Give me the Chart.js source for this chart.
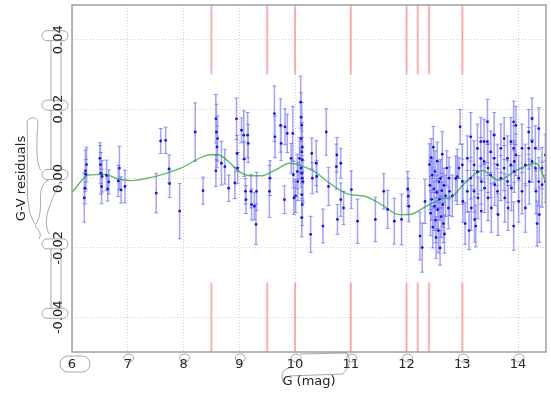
<!DOCTYPE html>
<html>
<head>
<meta charset="utf-8">
<script src="https://cdn.jsdelivr.net/npm/chart.js@4.4.0/dist/chart.umd.min.js"></script>
<style>
  html, body { margin: 0; padding: 0; background: #fff; }
  #wrap { width: 551px; height: 394px; }
</style>
</head>
<body>
<div id="wrap"><canvas id="chart"></canvas></div>
<script>
// axis ranges / ticks
const xRange = [6, 14.5];
const yRange = [-0.05, 0.05];
const xTicks = [6, 7, 8, 9, 10, 11, 12, 13, 14];
const yTicks = [-0.04, -0.02, 0, 0.02, 0.04];

// measured residuals: G magnitude, G-V residual, 1-sigma error
const gMag = [
  6.22, 6.24, 6.25, 6.23, 6.26, 6.50, 6.51, 6.52, 6.53, 6.54, 6.62, 6.64, 6.66, 6.83, 6.85, 6.88, 6.95,
  7.51, 7.59, 7.68, 7.74, 7.75, 7.93,
  8.21, 8.35, 8.58, 8.59, 8.60, 8.58, 8.61, 8.68, 8.74, 8.81, 8.92, 8.95, 8.96, 8.97,
  9.04, 9.08, 9.09, 9.11, 9.12, 9.15, 9.16, 9.21, 9.22, 9.27, 9.30, 9.31, 9.54, 9.55, 9.63, 9.64,
  9.74, 9.75, 9.81, 9.82, 9.86, 9.93, 9.96, 9.97, 9.98,
  10.01, 10.04, 10.05, 10.08, 10.10, 10.11, 10.12, 10.11, 10.13, 10.12, 10.13, 10.11, 10.12, 10.13,
  10.14, 10.12, 10.13, 10.12, 10.28, 10.30, 10.31, 10.38, 10.39, 10.50, 10.56, 10.60, 10.74, 10.75,
  10.76, 10.82, 10.82, 10.87, 11.01, 11.12, 11.44, 11.59, 11.66, 11.78, 11.91,
  12.02, 12.03, 12.04, 12.24, 12.28, 12.33,
  12.41, 12.42, 12.43, 12.44, 12.45, 12.46, 12.47, 12.48, 12.49, 12.50, 12.51, 12.52, 12.53, 12.54,
  12.55, 12.56, 12.57, 12.58, 12.59, 12.60, 12.61, 12.62, 12.63, 12.64, 12.65, 12.66, 12.67, 12.68,
  12.70, 12.72, 12.75, 12.76, 12.77, 12.82, 12.88, 12.91, 12.94, 12.96,
  13.00, 13.00, 13.01, 13.05, 13.09, 13.09, 13.12, 13.15, 13.15, 13.16, 13.21, 13.21, 13.22, 13.24,
  13.27, 13.27, 13.28, 13.33, 13.33, 13.34, 13.34, 13.39, 13.39, 13.40, 13.45, 13.45, 13.46, 13.46,
  13.51, 13.51, 13.52, 13.57, 13.57, 13.58, 13.63, 13.63, 13.64, 13.69, 13.69, 13.75, 13.75, 13.76,
  13.81, 13.81, 13.82, 13.87, 13.87, 13.88, 13.92, 13.92, 13.92, 13.93, 13.93, 13.96, 13.96,
  14.01, 14.01, 14.07, 14.07, 14.13, 14.13, 14.19, 14.19, 14.20, 14.25, 14.25, 14.25, 14.31, 14.31,
  14.32, 14.34, 14.37, 14.37, 14.38, 14.43, 14.43, 14.49, 14.49
];
const resid = [
  -0.0056, 0.0022, 0.0012, -0.0028, 0.0040, 0.0058, 0.0040, 0.0015, -0.0023, 0.0006, 0.0009, -0.0030, -0.0010, -0.0007, 0.0030, -0.0033, -0.0023,
  -0.0042, 0.0108, 0.0110, 0.0028, -0.0015, -0.0094,
  0.0134, -0.0035, 0.0172, 0.0134, 0.0091, 0.0022, 0.0115, 0.0044, 0.0034, -0.0028, -0.0013, 0.0172, 0.0072, 0.0030,
  0.0139, 0.0125, 0.0056, -0.0037, -0.0061, 0.0125, 0.0101, -0.0037, -0.0075, -0.0080, -0.0132, -0.0037, -0.0037, 0.0001, 0.0187, 0.0120,
  0.0153, 0.0101, -0.0061, 0.0149, 0.0130, 0.0058, 0.0130, 0.0011, -0.0056,
  -0.0050, 0.0020, -0.0009, 0.0058, 0.0220, 0.0177, 0.0154, 0.0115, 0.0091, 0.0077, 0.0054, 0.0030, 0.0015, 0.0001,
  -0.0009, -0.0047, -0.0075, -0.0113, -0.0161, 0.0072, 0.0001, 0.0044, 0.0006, -0.0137, 0.0134, -0.0023, 0.0034, 0.0068,
  -0.0118, 0.0044, -0.0061, -0.0085, -0.0032, -0.0123, -0.0118, -0.0037, -0.0089, -0.0123, -0.0118,
  -0.0030, -0.0051, -0.0080, -0.0166, -0.0199, -0.0066,
  0.0040, -0.0020, -0.0100, 0.0060, -0.0060, 0.0010, -0.0140, 0.0090, -0.0030, -0.0080, 0.0020, -0.0120, -0.0170, -0.0040,
  0.0050, -0.0090, -0.0150, -0.0010, -0.0060, -0.0200, 0.0000, -0.0110, -0.0035, 0.0070, -0.0075, -0.0130, -0.0020, -0.0160,
  -0.0050, 0.0030, -0.0085, 0.0001, -0.0037, -0.0050, 0.0000, 0.0005, 0.0030, 0.0149,
  0.0039, -0.0009, -0.0066, -0.0130, 0.0058, -0.0037, -0.0150, 0.0120, 0.0001, -0.0085, 0.0039, -0.0037, -0.0118, -0.0137,
  0.0087, 0.0020, -0.0056, 0.0106, 0.0058, -0.0009, -0.0094, 0.0106, 0.0049, -0.0028, 0.0163, 0.0106, 0.0030, -0.0056,
  0.0077, 0.0010, -0.0085, 0.0125, 0.0058, -0.0018, 0.0039, -0.0037, -0.0104, 0.0087, 0.0001, 0.0115, 0.0030, -0.0056,
  0.0058, -0.0009, -0.0085, 0.0106, 0.0039, -0.0028, 0.0163, 0.0087, -0.0137, 0.0049, 0.0020, 0.0153, 0.0068,
  0.0001, -0.0066, 0.0087, -0.0037, 0.0039, -0.0085, 0.0134, 0.0087, -0.0009, 0.0172, 0.0106, 0.0049, 0.0087, 0.0030,
  -0.0037, -0.0130, 0.0144, -0.0009, -0.0104, 0.0030, -0.0018, 0.0068, -0.0009
];
const residErr = [
  0.0070, 0.0060, 0.0043, 0.0045, 0.0050, 0.0045, 0.0055, 0.0060, 0.0050, 0.0045, 0.0044, 0.0035, 0.0035, 0.0045, 0.0063, 0.0038, 0.0047,
  0.0057, 0.0036, 0.0038, 0.0040, 0.0040, 0.0080,
  0.0084, 0.0039, 0.0070, 0.0080, 0.0060, 0.0045, 0.0065, 0.0063, 0.0050, 0.0038, 0.0045, 0.0060, 0.0052, 0.0045,
  0.0036, 0.0070, 0.0050, 0.0037, 0.0040, 0.0065, 0.0055, 0.0048, 0.0045, 0.0039, 0.0058, 0.0055, 0.0075, 0.0050, 0.0080, 0.0060,
  0.0077, 0.0050, 0.0040, 0.0052, 0.0055, 0.0043, 0.0078, 0.0038, 0.0048,
  0.0048, 0.0050, 0.0055, 0.0060, 0.0075, 0.0070, 0.0065, 0.0060, 0.0070, 0.0060, 0.0065, 0.0055, 0.0060, 0.0065,
  0.0060, 0.0065, 0.0060, 0.0055, 0.0052, 0.0045, 0.0045, 0.0065, 0.0045, 0.0049, 0.0067, 0.0055, 0.0065, 0.0050,
  0.0043, 0.0043, 0.0048, 0.0048, 0.0054, 0.0064, 0.0064, 0.0051, 0.0055, 0.0066, 0.0073,
  0.0050, 0.0052, 0.0045, 0.0069, 0.0071, 0.0064,
  0.0060, 0.0070, 0.0065, 0.0055, 0.0060, 0.0050, 0.0060, 0.0060, 0.0055, 0.0070, 0.0060, 0.0065, 0.0060, 0.0050,
  0.0055, 0.0055, 0.0065, 0.0060, 0.0060, 0.0050, 0.0055, 0.0060, 0.0050, 0.0065, 0.0065, 0.0055, 0.0050, 0.0055,
  0.0060, 0.0050, 0.0060, 0.0060, 0.0070, 0.0060, 0.0065, 0.0080, 0.0030, 0.0050,
  0.0060, 0.0065, 0.0060, 0.0060, 0.0065, 0.0060, 0.0055, 0.0070, 0.0060, 0.0065, 0.0070, 0.0060, 0.0065, 0.0060,
  0.0070, 0.0065, 0.0060, 0.0070, 0.0060, 0.0065, 0.0060, 0.0065, 0.0060, 0.0070, 0.0065, 0.0060, 0.0070, 0.0065,
  0.0060, 0.0065, 0.0070, 0.0065, 0.0070, 0.0060, 0.0060, 0.0065, 0.0060, 0.0070, 0.0065, 0.0060, 0.0065, 0.0070,
  0.0065, 0.0060, 0.0065, 0.0070, 0.0060, 0.0065, 0.0060, 0.0065, 0.0070, 0.0060, 0.0060, 0.0055, 0.0060,
  0.0065, 0.0060, 0.0070, 0.0065, 0.0060, 0.0070, 0.0065, 0.0060, 0.0065, 0.0060, 0.0070, 0.0060, 0.0065, 0.0060,
  0.0065, 0.0065, 0.0060, 0.0070, 0.0080, 0.0060, 0.0065, 0.0060, 0.0060
];

// smoothed trend (green curve)
const trendMag = [6.0, 6.3, 6.6, 6.8, 7.05, 7.5, 7.95, 8.4, 8.6, 8.8, 9.0, 9.2, 9.4, 9.65, 9.9, 10.1, 10.35,
  10.65, 10.95, 11.25, 11.55, 11.86, 12.05, 12.35, 12.6, 12.82, 13.07, 13.36, 13.65, 13.96, 14.32, 14.5];
const trendRes = [-0.0040, 0.0010, 0.0012, 0.0000, -0.0006, 0.0006, 0.0030, 0.0066, 0.0069, 0.0050, 0.0020, 0.0008, 0.0008, 0.0025, 0.0044, 0.0037, 0.0020,
  -0.0017, -0.0045, -0.0051, -0.0075, -0.0104, -0.0104, -0.0080, -0.0060, -0.0051, -0.0009, 0.0023, -0.0005, 0.0023, 0.0044, -0.0009];

// red marker magnitudes and the two vertical spans they cover
const markMag = [8.5, 9.5, 10, 11, 12, 12.2, 12.4, 13];
const markSpans = [[0.03, 0.05], [-0.05, -0.03]];

const FONT = 'DejaVu Sans';

const points = gMag.map((x, i) => ({ x, y: resid[i] }));
const errBars = [];
gMag.forEach((x, i) => {
  errBars.push({ x, y: resid[i] - residErr[i] });
  errBars.push({ x, y: resid[i] + residErr[i] });
  errBars.push({ x, y: null });
});
const trend = trendMag.map((x, i) => ({ x, y: trendRes[i] }));
const marks = [];
markMag.forEach(x => {
  markSpans.forEach(s => {
    marks.push({ x, y: s[0] });
    marks.push({ x, y: s[1] });
    marks.push({ x, y: null });
  });
});

// thin grey frame round the plot area
const framePlugin = {
  id: 'frame',
  afterDraw(chart) {
    const { ctx, chartArea: a } = chart;
    ctx.save();
    ctx.strokeStyle = '#a0a0a0';
    ctx.lineWidth = 1.5;
    ctx.strokeRect(a.left, a.top, a.right - a.left, a.bottom - a.top);
    ctx.restore();
  }
};

// faint hand-drawn looking outlines round the tick labels, as in the original
const outlinePlugin = {
  id: 'outlines',
  afterDraw(chart) {
    const { ctx, scales: { x, y } } = chart;
    ctx.save();
    ctx.strokeStyle = 'rgba(110,110,110,0.75)';
    ctx.lineWidth = 0.8;
    const pill = (l, t, w, h, r) => { ctx.beginPath(); ctx.roundRect(l, t, w, h, r); ctx.stroke(); };
    xTicks.forEach((v, i) => {
      const px = x.getPixelForValue(v);
      if (i === 0) {
        pill(px - 12, x.top + 4, 30, 16, 8);
      } else {
        ctx.beginPath();
        ctx.ellipse(px + 1, x.top + 6, 5, 4, 0, 0, Math.PI * 2);
        ctx.stroke();
      }
    });
    // connector from the 10/11 rings down round the axis title
    const p10 = x.getPixelForValue(10), p11 = x.getPixelForValue(11);
    ctx.beginPath();
    ctx.moveTo(p10 + 5, x.top + 2);
    ctx.lineTo(p11 - 4, x.top + 1);
    ctx.quadraticCurveTo(p11 + 3, x.top + 10, p11 - 8, x.top + 22);
    ctx.lineTo(p10 - 6, x.top + 24);
    ctx.moveTo(p10 - 6, x.top + 16);
    ctx.quadraticCurveTo(p10 - 16, x.top + 18, p10 - 12, x.top + 30);
    ctx.stroke();

    // y labels: a bump at each tick, joined by narrow channels
    const cx = 55;
    yTicks.forEach(v => {
      const py = y.getPixelForValue(v) - 4;
      pill(cx - 13, py - 5, 26, 10, 5);
    });
    const pairs = [[0.04, 0.02], [0.02, 0], [-0.02, -0.04]];
    pairs.forEach(([a, b]) => {
      const ya = y.getPixelForValue(a) + 1, yb = y.getPixelForValue(b) - 9;
      ctx.beginPath();
      ctx.moveTo(cx - 4, ya); ctx.lineTo(cx - 4, yb);
      ctx.moveTo(cx + 6, ya); ctx.lineTo(cx + 6, yb);
      ctx.stroke();
    });
    const y0 = y.getPixelForValue(0), ym = y.getPixelForValue(-0.02);
    ctx.beginPath();
    ctx.moveTo(cx - 6, y0 + 1);
    ctx.bezierCurveTo(cx - 22, y0 + 10, cx - 8, ym - 40, cx - 20, ym - 22);
    ctx.quadraticCurveTo(cx - 12, ym - 14, cx - 16, ym - 9);
    ctx.moveTo(cx - 6, ym - 14);
    ctx.bezierCurveTo(cx - 14, ym - 30, cx - 2, y0 + 20, cx + 6, y0 + 1);
    ctx.stroke();
    // loop from the title reaching into the 0.00 bump
    const y2 = y.getPixelForValue(0.02);
    ctx.beginPath();
    ctx.moveTo(cx - 14, y0 - 8);
    ctx.bezierCurveTo(cx - 20, y0 - 15, cx - 18, y2 + 25, cx - 17, y2 + 12);
    ctx.quadraticCurveTo(cx - 22, y2 + 5, cx - 28, y2 + 12);
    ctx.bezierCurveTo(cx - 26, y0 - 10, cx - 32, y0 + 30, cx - 20, ym - 24);
    ctx.stroke();
    ctx.restore();
  }
};

new Chart(document.getElementById('chart'), {
  type: 'scatter',
  data: {
    datasets: [
      {
        data: points,
        backgroundColor: '#1414e0',
        borderColor: '#1414e0',
        pointRadius: 1.4,
        pointBorderWidth: 0,
        order: 0
      },
      {
        data: trend,
        showLine: true,
        borderColor: 'rgba(40,165,40,0.75)',
        borderWidth: 1.4,
        pointRadius: 0,
        cubicInterpolationMode: 'monotone',
        order: 1
      },
      {
        data: errBars,
        showLine: true,
        spanGaps: false,
        borderColor: 'rgba(70,70,255,0.5)',
        borderWidth: 1.5,
        pointStyle: 'line',
        pointRadius: 2,
        pointBorderWidth: 1,
        pointBorderColor: 'rgba(70,70,255,0.55)',
        order: 2
      },
      {
        data: marks,
        showLine: true,
        spanGaps: false,
        borderColor: 'rgba(255,80,80,0.45)',
        borderWidth: 2,
        pointRadius: 0,
        order: 3
      }
    ]
  },
  options: {
    responsive: true,
    maintainAspectRatio: false,
    animation: false,
    layout: { padding: { top: 3, right: 3, left: 0, bottom: 0 } },
    plugins: { legend: { display: false }, tooltip: { enabled: false } },
    scales: {
      x: {
        type: 'linear',
        min: xRange[0],
        max: xRange[1],
        afterFit: s => { s.height = 42; },
        afterBuildTicks: s => { s.ticks = xTicks.map(value => ({ value })); },
        ticks: {
          color: '#222',
          font: { family: FONT, size: 13 },
          padding: 5,
          maxRotation: 0
        },
        grid: { color: '#cfcfcf', drawTicks: false },
        border: { display: false, dash: [1, 2] },
        title: { display: true, text: 'G (mag)', color: '#222', font: { family: FONT, size: 13 }, padding: { top: 0, bottom: 5 } }
      },
      y: {
        min: yRange[0],
        max: yRange[1],
        afterFit: s => { s.width = 72; },
        afterBuildTicks: s => { s.ticks = yTicks.map(value => ({ value })); },
        ticks: {
          color: '#222',
          font: { family: FONT, size: 13 },
          minRotation: 90,
          maxRotation: 90,
          crossAlign: 'center',
          padding: -3,
          callback: v => v.toFixed(2)
        },
        grid: { color: '#cfcfcf', drawTicks: false },
        border: { display: false, dash: [1, 2] },
        title: { display: true, text: 'G-V residuals', color: '#222', font: { family: FONT, size: 13 }, padding: { top: 14, bottom: 0 } }
      }
    }
  },
  plugins: [framePlugin, outlinePlugin]
});
</script>
</body>
</html>
